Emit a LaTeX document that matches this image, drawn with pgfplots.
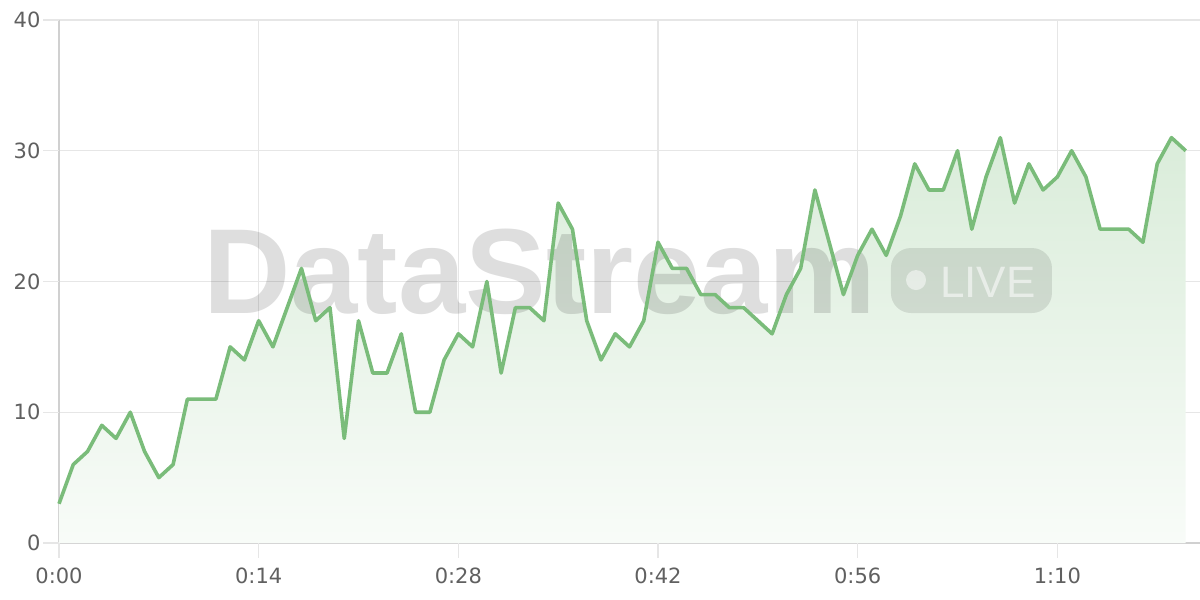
\documentclass[border=0pt]{standalone}
\usepackage{pgfplots}
\usepackage{pgfplotstable}
\pgfplotsset{compat=1.18}
\usepackage{fontspec}
\setmainfont{Liberation Sans}
\newfontfamily\tickfont{DejaVu Sans}
\definecolor{linegreen}{RGB}{122,188,122}
\definecolor{gridgray}{RGB}{230,230,230}
\definecolor{axisgray}{RGB}{208,208,208}
\definecolor{labelgray}{RGB}{96,96,96}
\pgfplotstableread{
x y
0 3
1 6
2 7
3 9
4 8
5 10
6 7
7 5
8 6
9 11
10 11
11 11
12 15
13 14
14 17
15 15
16 18
17 21
18 17
19 18
20 8
21 17
22 13
23 13
24 16
25 10
26 10
27 14
28 16
29 15
30 20
31 13
32 18
33 18
34 17
35 26
36 24
37 17
38 14
39 16
40 15
41 17
42 23
43 21
44 21
45 19
46 19
47 18
48 18
49 17
50 16
51 19
52 21
53 27
54 23
55 19
56 22
57 24
58 22
59 25
60 29
61 27
62 27
63 30
64 24
65 28
66 31
67 26
68 29
69 27
70 28
71 30
72 28
73 24
74 24
75 24
76 23
77 29
78 31
79 30
}\datatable
\begin{document}
\begin{tikzpicture}
\useasboundingbox (-59pt,-57pt) rectangle (1141pt,543pt);
\begin{axis}[
  at={(0,0)}, anchor=south west, scale only axis,
  width=1141pt, height=523pt,
  xmin=0, xmax=80, ymin=0, ymax=40,
  clip=false,
  axis lines=left,
  axis line style={-, draw=axisgray, line width=1.6pt},
  xtick={0,14,28,42,56,70},
  xticklabels={0:00,0:14,0:28,0:42,0:56,1:10},
  ytick={0,10,20,30,40},
  grid=major,
  major grid style={draw=gridgray, line width=1.2pt},
  tick pos=left,
  tick align=outside,
  major tick length=15pt,
  xtick style={draw=gridgray, line width=1.2pt},
  ytick style={draw=gridgray, line width=1.2pt},
  ticklabel style={font=\tickfont\fontsize{21}{24}\selectfont, text=labelgray},
  /pgf/number format/assume math mode=true,
  yticklabel style={anchor=east},
  xticklabel style={anchor=north, yshift=-6pt},
]
\pgfplotsinvokeforeach{0,14,28,42,56,70}{
  \draw[gridgray, line width=1.2pt] (axis cs:#1,0) -- ++(0pt,-15pt);
}
\pgfplotsinvokeforeach{0,10,20,30,40}{
  \draw[gridgray, line width=1.2pt] (axis cs:0,#1) -- ++(-16pt,0pt);
}
\addplot[draw=none, top color=linegreen!28!white, bottom color=linegreen!5!white] table[x=x,y=y] {\datatable} \closedcycle;
\node[font=\fontsize{121}{121}\selectfont\bfseries, text=black, text opacity=0.13, anchor=base west, inner sep=0pt] at (axis cs:10.1,17.59) {DataStream};
\fill[black, opacity=0.10, rounded corners=20pt] (axis cs:58.33,17.59) rectangle (axis cs:69.62,22.56);
\fill[white, opacity=0.5] (axis cs:60.09,20.11) circle[radius=10pt];
\node[font=\fontsize{44}{44}\selectfont, text=white, text opacity=0.55, anchor=base west, inner sep=0pt] at (axis cs:61.77,18.74) {LIVE};
\addplot[draw=linegreen, line width=3.6pt, line join=round, mark=none] table[x=x,y=y] {\datatable};
\end{axis}
\end{tikzpicture}
\end{document}
